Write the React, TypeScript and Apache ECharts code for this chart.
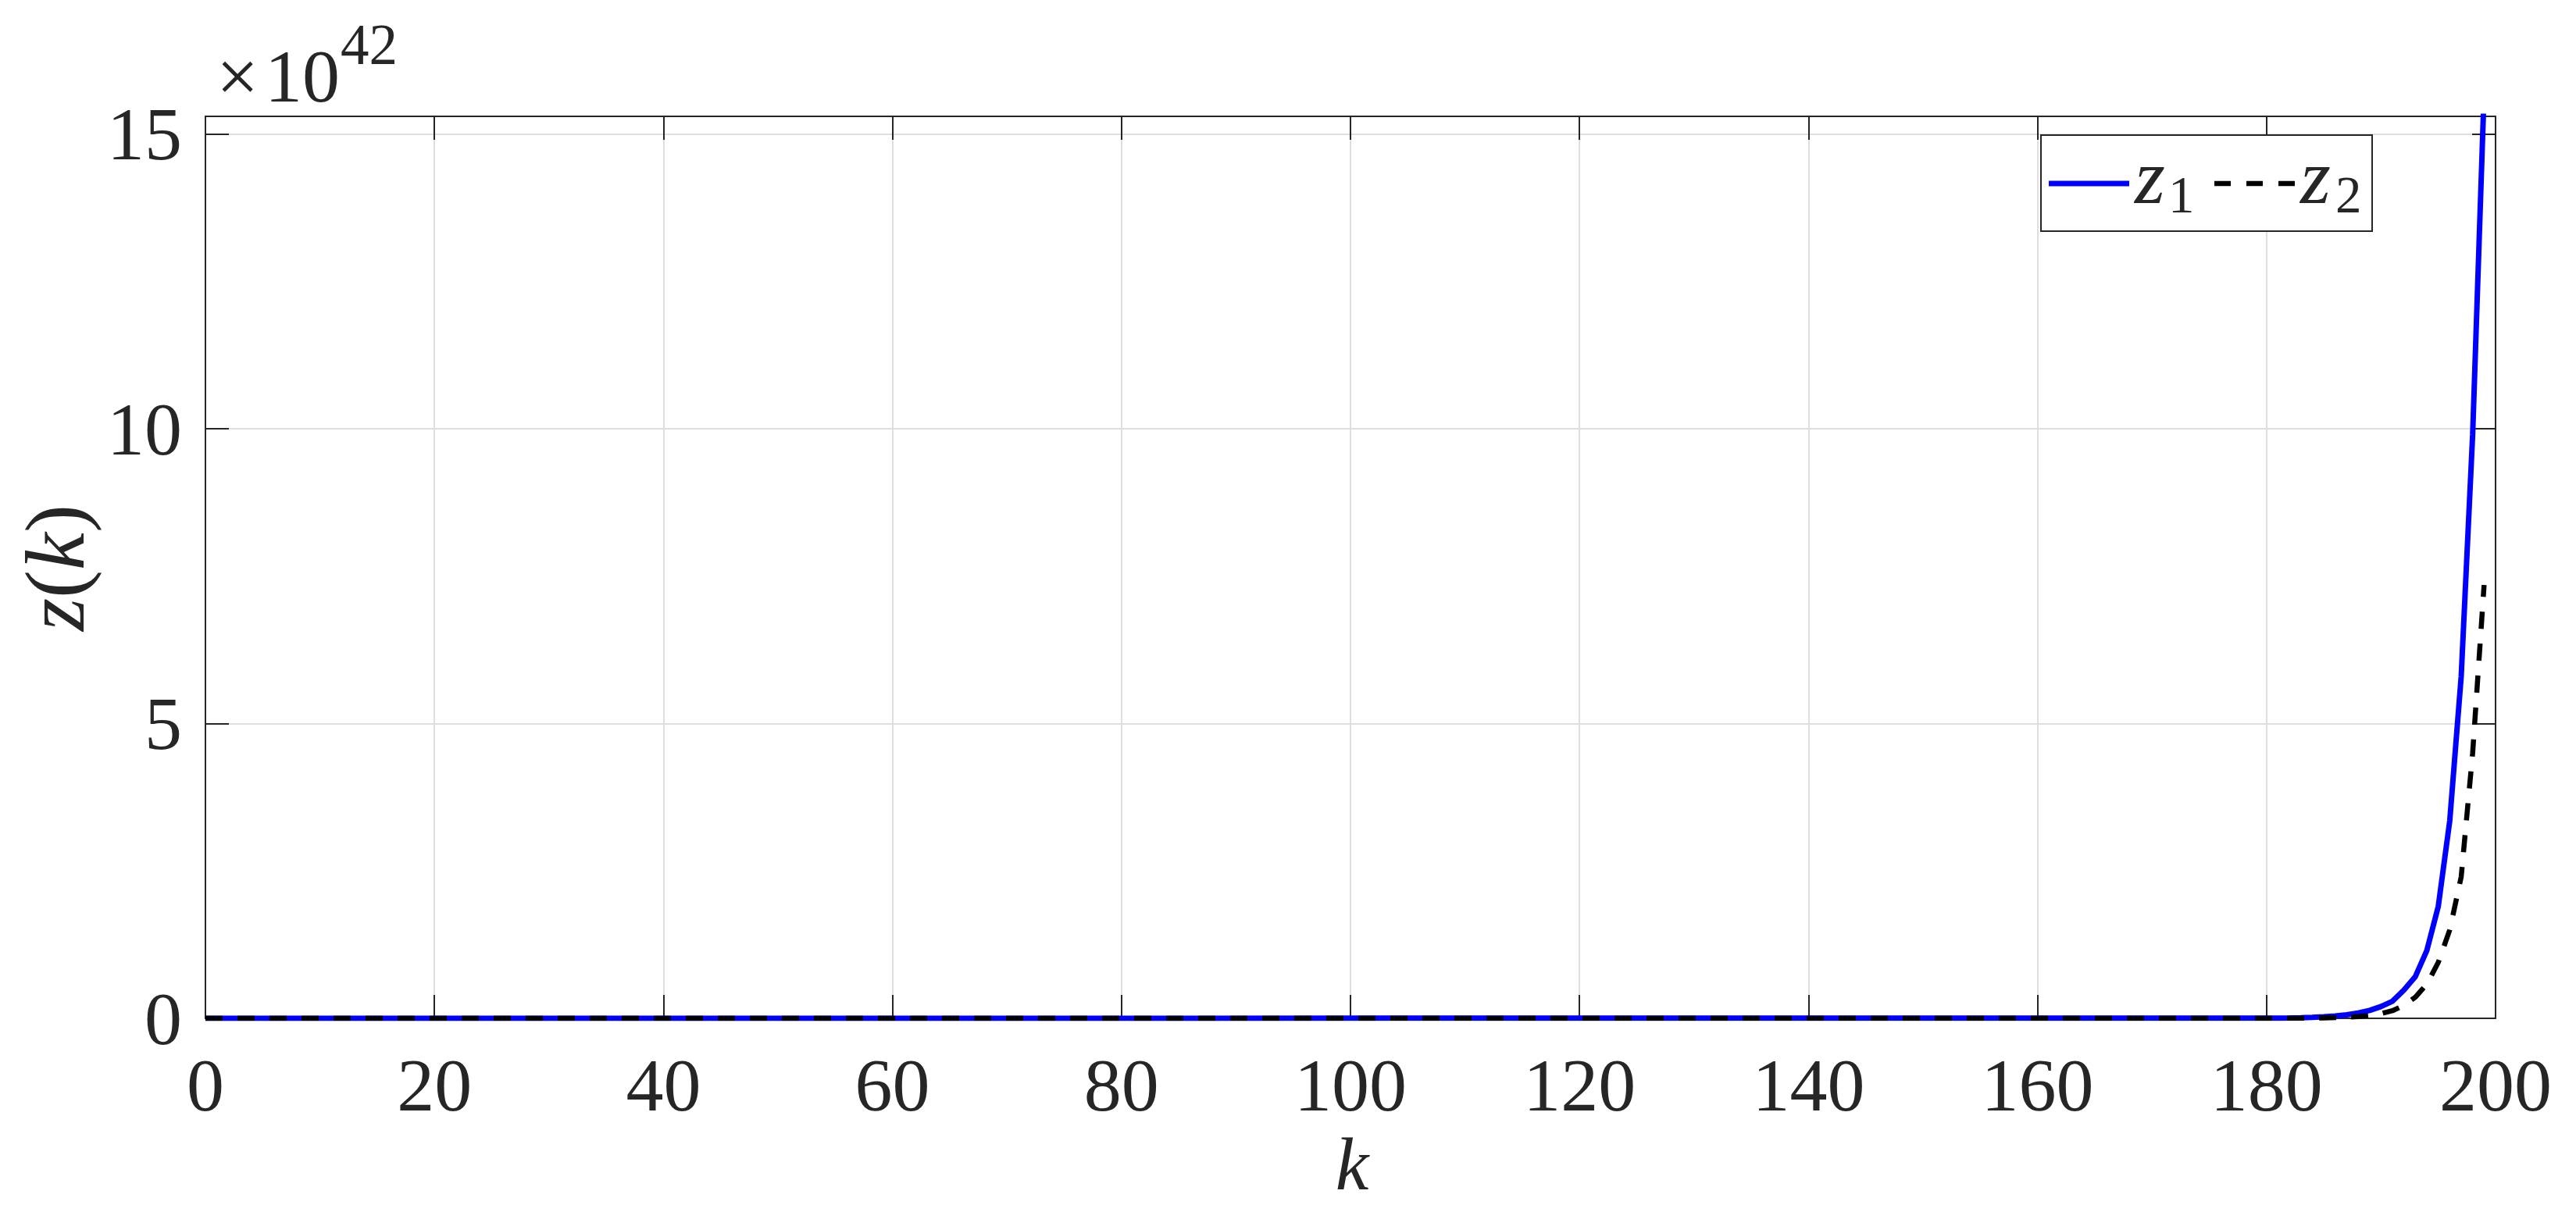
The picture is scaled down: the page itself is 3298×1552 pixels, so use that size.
import { useEffect, useRef } from 'react';
import * as echarts from 'echarts';

// sample index k and the two state components (in units of 1e42)
const kValues = [0, 180, 181, 182, 183, 184, 185, 186, 187, 188, 189, 190, 191, 192, 193, 194, 195, 196, 197, 198, 199];
const z1Values = [0, 0.003, 0.0045, 0.007, 0.011, 0.017, 0.026, 0.04, 0.06, 0.09, 0.135, 0.2, 0.29, 0.48, 0.71, 1.15, 1.9, 3.35, 5.8, 9.9, 15.7];
const z2Values = [0, 0.0006, 0.001, 0.0015, 0.0025, 0.004, 0.007, 0.012, 0.02, 0.03, 0.05, 0.08, 0.13, 0.22, 0.36, 0.58, 0.95, 1.5, 2.4, 4.5, 7.35];
const seriesNames = ['z1', 'z2'];
const xMin = 0;
const xMax = 200;
const xStep = 20;
const yMin = 0;
const yMax = 15.3;
const yStep = 5;
const exponentText = '42';

export default function App() {
  const ref = useRef<HTMLDivElement>(null);
  useEffect(() => {
    const chart = echarts.init(ref.current!, undefined, { renderer: 'svg' });
    const serif = 'Liberation Serif';
    const ink = '#262626';
    const frameLine = { show: true, onZero: false, lineStyle: { color: ink, width: 2 } };
    const ticks = { show: true, inside: true, length: 30, lineStyle: { color: ink, width: 2 } };
    const grid = { show: true, lineStyle: { color: '#dfdfdf', width: 2 } };

    const text = (x: number, y: number, t: string, size: number, italic = false, align = 'left') => ({
      type: 'text',
      x,
      y,
      silent: true,
      style: {
        text: t,
        fontFamily: serif,
        fontSize: size,
        fontStyle: italic ? 'italic' : 'normal',
        fill: ink,
        align,
        verticalAlign: 'middle',
      },
    });

    chart.setOption({
      animation: false,
      backgroundColor: '#ffffff',
      grid: { left: 263, top: 149, width: 2932, height: 1155 },
      xAxis: [
        {
          type: 'value', position: 'bottom', min: xMin, max: xMax, interval: xStep,
          axisLine: frameLine, axisTick: ticks,
          axisLabel: { color: ink, fontFamily: serif, fontSize: 96, margin: 37 },
          splitLine: grid,
        },
        {
          type: 'value', position: 'top', min: xMin, max: xMax, interval: xStep,
          axisLine: frameLine, axisTick: ticks, axisLabel: { show: false }, splitLine: { show: false },
        },
      ],
      yAxis: [
        {
          type: 'value', position: 'left', min: yMin, max: yMax, interval: yStep,
          axisLine: frameLine, axisTick: ticks,
          axisLabel: {
            color: ink, fontFamily: serif, fontSize: 96, margin: 30,
            formatter: (v: number) => (Math.abs(v % yStep) < 1e-9 ? String(v) : ''),
          },
          splitLine: grid,
        },
        {
          type: 'value', position: 'right', min: yMin, max: yMax, interval: yStep,
          axisLine: frameLine, axisTick: ticks, axisLabel: { show: false }, splitLine: { show: false },
        },
      ],
      series: [
        {
          name: seriesNames[0], type: 'line', xAxisIndex: 0, yAxisIndex: 0,
          data: kValues.map((k, i) => [k, z1Values[i]]),
          symbol: 'none', showSymbol: false, clip: true, z: 2,
          lineStyle: { color: '#0000ff', width: 7 }, itemStyle: { color: '#0000ff' },
        },
        {
          name: seriesNames[1], type: 'line', xAxisIndex: 0, yAxisIndex: 0,
          data: kValues.map((k, i) => [k, z2Values[i]]),
          symbol: 'none', showSymbol: false, clip: true, z: 3,
          lineStyle: { color: '#000000', width: 6.5, type: [22, 19] }, itemStyle: { color: '#000000' },
        },
      ],
      graphic: [
        // exponent label
        text(277, 97, '×', 96),
        text(339, 97, '10', 96),
        text(436, 57, exponentText, 73),
        // y axis name z(k)
        {
          type: 'text', x: 70, y: 727, rotation: Math.PI / 2, silent: true,
          style: {
            text: '{i|z}{r|(}{i|k}{r|)}',
            align: 'center', verticalAlign: 'middle', fill: ink,
            rich: {
              i: { fontFamily: serif, fontSize: 108, fontStyle: 'italic', fill: ink },
              r: { fontFamily: serif, fontSize: 108, fill: ink },
            },
          },
        },
        // x axis name k
        text(1731, 1490, 'k', 96, true, 'center'),
        // legend
        {
          type: 'rect', silent: true, z: 10,
          shape: { x: 2613, y: 173, width: 424, height: 123 },
          style: { fill: '#ffffff', stroke: ink, lineWidth: 2 },
        },
        {
          type: 'line', silent: true, z: 11,
          shape: { x1: 2623, y1: 235, x2: 2726, y2: 235 },
          style: { stroke: '#0000ff', lineWidth: 7 },
        },
        {
          type: 'line', silent: true, z: 11,
          shape: { x1: 2835, y1: 235, x2: 2938, y2: 235 },
          style: { stroke: '#000000', lineWidth: 6.5, lineDash: [21, 20] },
        },
        { ...text(2733, 226, 'z', 100, true), z: 11 },
        { ...text(2776, 249, '1', 67), z: 11 },
        { ...text(2945, 226, 'z', 100, true), z: 11 },
        { ...text(2990, 249, '2', 67), z: 11 },
      ],
    });
    return () => chart.dispose();
  }, []);
  return (
    <div
      ref={ref}
      style={{ position: 'absolute', left: 0, top: 0, width: 3298, height: 1552, background: '#ffffff' }}
    />
  );
}
